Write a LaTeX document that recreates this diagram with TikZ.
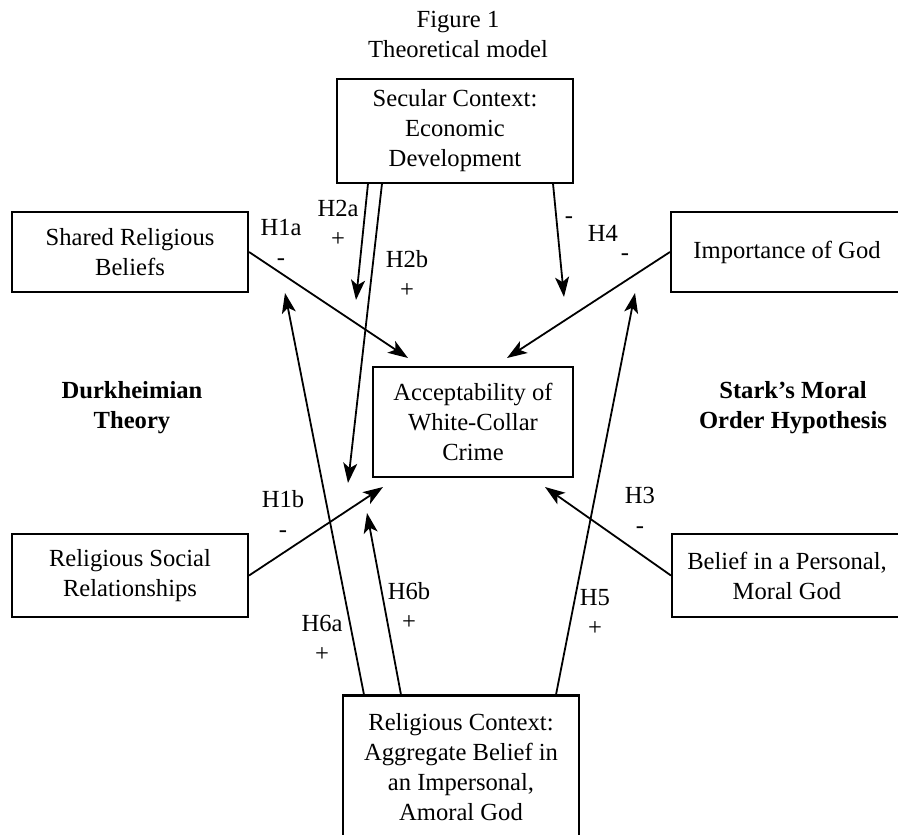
\documentclass[tikz,border=0pt]{standalone}
\usepackage{fontspec}
\setmainfont{Liberation Serif}
\usetikzlibrary{arrows.meta}
\begin{document}
\begin{tikzpicture}[x=1pt,y=-1pt,
  every node/.style={font=\fontsize{24.6}{30}\selectfont, inner sep=0pt, align=center},
  box/.style={draw, line width=2.1pt},
  arr/.style={line width=1.8pt, -{Stealth[length=20pt,width=14pt,inset=5pt]}}]
\useasboundingbox (0,0) rectangle (898,835);
\clip (0,0) rectangle (898,835);


\node (v0) at (458,34) {Figure 1\\Theoretical model};
\node[box, minimum width=236pt, minimum height=104pt] (v1) at (455,131) {Secular Context:\\Economic\\Development};
\node[box, minimum width=236pt, minimum height=80pt] (v2) at (130,252) {Shared Religious\\Beliefs};
\node[box, minimum width=232pt, minimum height=80pt] (v3) at (787,252) {Importance of God};
\node[box, minimum width=200pt, minimum height=110pt] (v4) at (473,422) {Acceptability of\\White-Collar\\Crime};
\node[box, minimum width=236pt, minimum height=83pt] (v5) at (130,575.5) {Religious Social\\Relationships};
\node[box, minimum width=230pt, minimum height=83pt] (v6) at (787,575.5) {Belief in a Personal,\\Moral God};
\node[box, minimum width=236pt, minimum height=143pt] (v7) at (461,767) {Religious Context:\\Aggregate Belief in\\an Impersonal,\\Amoral God};
\node[font=\fontsize{24.6}{30}\selectfont\bfseries] (v19) at (132,408) {Durkheimian\\Theory};
\node[font=\fontsize{24.6}{30}\selectfont\bfseries] (v20) at (793,408) {Stark’s Moral\\Order Hypothesis};



\coordinate (t1) at (408,358);
\coordinate (t2) at (356,300);
\coordinate (t3) at (348,483);
\coordinate (t4) at (564,297);
\coordinate (t5) at (507,358);
\coordinate (t6) at (383,487);
\coordinate (t7) at (545,487);
\coordinate (t8) at (367,513);
\coordinate (t9) at (285,293);
\coordinate (t10) at (635,293);
\draw[arr] (v2.east) -- (t1);
\draw[arr] ([xshift=32pt]v1.south west) -- (t2);
\draw[arr] ([xshift=46pt]v1.south west) -- (t3);
\draw[arr] ([xshift=-21pt]v1.south east) -- (t4);
\draw[arr] (v3.west) -- (t5);
\draw[arr] (v5.east) -- (t6);
\draw[arr] (v6.west) -- (t7);
\draw[arr] ([xshift=59pt]v7.north west) -- (t8);
\draw[arr] ([xshift=22pt]v7.north west) -- (t9);
\draw[arr] ([xshift=-24pt]v7.north east) -- (t10);



\node (v8) at (281,242) {H1a\\-};
\node (v9) at (338,223) {H2a\\+};
\node (v10) at (407,274) {H2b\\+};
\node (v11) at (569,220) {-};
\node (v12) at (603,233) {H4};
\node (v13) at (625,257) {-};
\node (v14) at (283,514) {H1b\\-};
\node (v15) at (640,510) {H3\\-};
\node (v16) at (409,606) {H6b\\+};
\node (v17) at (322,638) {H6a\\+};
\node (v18) at (595,612) {H5\\+};
\end{tikzpicture}
\end{document}
